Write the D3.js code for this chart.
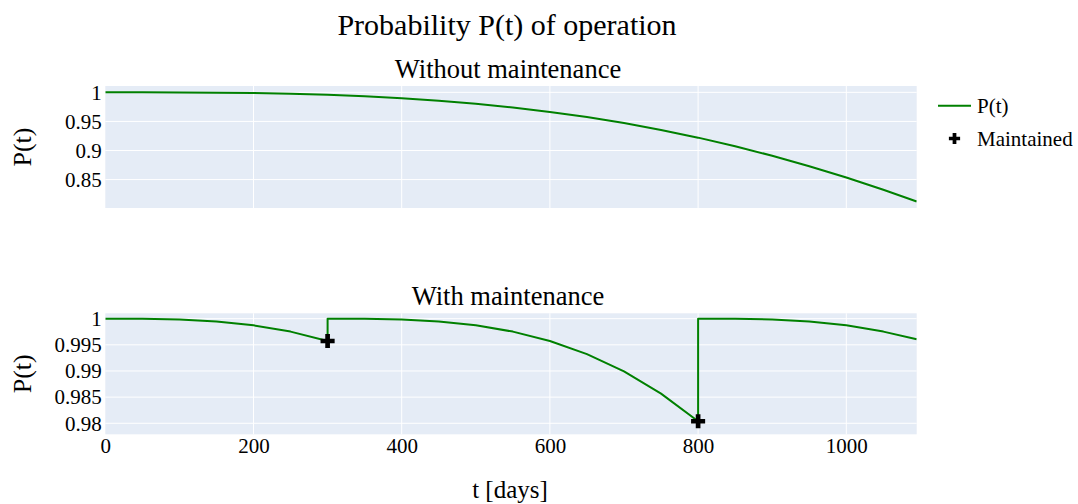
<!DOCTYPE html>
<html>
<head>
<meta charset="utf-8">
<script src="https://cdn.jsdelivr.net/npm/d3@7"></script>
<style>
  html, body { margin: 0; padding: 0; background: #fff; }
  svg text { font-family: "Liberation Serif", "Times New Roman", serif; fill: #000; }
</style>
</head>
<body>
<svg id="chart" width="1078" height="504"></svg>
<script>
// Operating probability P(t) over three years, sampled every 50 days
const daysNoMaint = [0, 50, 100, 150, 200, 250, 300, 350, 400, 450, 500, 550, 600,
                     650, 700, 750, 800, 850, 900, 950, 1000, 1050, 1095];
const probNoMaint = [1.0, 0.99998, 0.99984, 0.99947, 0.99873, 0.99753, 0.99573, 0.99323,
                     0.98991, 0.98567, 0.98039, 0.97398, 0.96635, 0.95742, 0.94710,
                     0.93534, 0.92208, 0.90727, 0.89091, 0.87297, 0.85347, 0.83241, 0.81218];

// With maintenance at day 300 and day 800 the probability is restored to 1
const daysMaint = [0, 50, 100, 150, 200, 250, 300,
                   300, 350, 400, 450, 500, 550, 600, 650, 700, 750, 800,
                   800, 850, 900, 950, 1000, 1050, 1095];
const probMaint = [1.0, 0.99998, 0.99984, 0.99947, 0.99873, 0.99753, 0.99573,
                   1.0, 0.99998, 0.99984, 0.99947, 0.99873, 0.99753, 0.99573, 0.99323,
                   0.98991, 0.98567, 0.98039,
                   1.0, 0.99998, 0.99984, 0.99947, 0.99873, 0.99753, 0.99605];

// Maintenance events
const maintDays = [300, 800];
const maintProb = [0.99573, 0.98039];

const xTicks = [0, 200, 400, 600, 800, 1000];
const yTicksTop = [0.85, 0.9, 0.95, 1];
const yTicksBottom = [0.98, 0.985, 0.99, 0.995, 1];

const svg = d3.select("#chart");
const left = 105.3, right = 916.7;
const panels = [
  { top: 86, bottom: 208, domain: [0.8011, 1.0109], ticks: yTicksTop,
    title: "Without maintenance", x: daysNoMaint, y: probNoMaint, showX: false },
  { top: 313.3, bottom: 434.3, domain: [0.97789, 1.00103], ticks: yTicksBottom,
    title: "With maintenance", x: daysMaint, y: probMaint, showX: true,
    markersX: maintDays, markersY: maintProb }
];

const x = d3.scaleLinear().domain([0, 1095]).range([left, right]);
const fmt = d => d3.format("~g")(d);

panels.forEach((p, i) => {
  const y = d3.scaleLinear().domain(p.domain).range([p.bottom, p.top]);
  const g = svg.append("g");

  g.append("rect").attr("x", left).attr("y", p.top)
    .attr("width", right - left).attr("height", p.bottom - p.top)
    .attr("fill", "#E5ECF6");

  const clipId = "clip" + i;
  svg.append("clipPath").attr("id", clipId).append("rect")
    .attr("x", left).attr("y", p.top).attr("width", right - left).attr("height", p.bottom - p.top);

  // grid lines
  g.append("g").selectAll("line").data(xTicks.filter(t => t > 0)).join("line")
    .attr("x1", d => x(d)).attr("x2", d => x(d))
    .attr("y1", p.top).attr("y2", p.bottom)
    .attr("stroke", "#fff").attr("stroke-width", 1);
  g.append("g").selectAll("line").data(p.ticks).join("line")
    .attr("x1", left).attr("x2", right)
    .attr("y1", d => y(d)).attr("y2", d => y(d))
    .attr("stroke", "#fff").attr("stroke-width", 1);

  // y axis
  const ya = g.append("g").attr("transform", `translate(${left - 3.5},0)`)
    .call(d3.axisLeft(y).tickValues(p.ticks).tickFormat(fmt).tickSize(0).tickPadding(0));
  ya.select(".domain").remove();
  ya.selectAll("text").attr("font-size", 21)
    .attr("font-family", '"Liberation Serif", serif').attr("fill", "#000");

  // x axis labels
  if (p.showX) {
    const xa = g.append("g").attr("transform", `translate(0,${p.bottom + 4})`)
      .call(d3.axisBottom(x).tickValues(xTicks).tickFormat(fmt).tickSize(0).tickPadding(0));
    xa.select(".domain").remove();
    xa.selectAll("text").attr("font-size", 21)
      .attr("font-family", '"Liberation Serif", serif').attr("fill", "#000");
  }

  // curve
  const pts = p.x.map((d, k) => [d, p.y[k]]);
  g.append("path").datum(pts)
    .attr("clip-path", `url(#${clipId})`)
    .attr("fill", "none").attr("stroke", "green").attr("stroke-width", 2)
    .attr("stroke-linejoin", "round")
    .attr("d", d3.line().x(d => x(d[0])).y(d => y(d[1])));

  // maintenance markers
  if (p.markersX) {
    const mk = p.markersX.map((d, k) => [d, p.markersY[k]]);
    g.append("g").selectAll("path").data(mk).join("path")
      .attr("transform", d => `translate(${x(d[0])},${y(d[1])})`)
      .attr("d", d3.symbol(d3.symbolCross, 110))
      .attr("fill", "#000");
  }

  // subplot title
  g.append("text").attr("x", 508).attr("y", p.top - 8)
    .attr("text-anchor", "middle").attr("font-size", 26.5).text(p.title);

  // y axis title
  const cy = (p.top + p.bottom) / 2;
  g.append("text").attr("transform", `translate(31,${cy}) rotate(-90)`)
    .attr("text-anchor", "middle").attr("font-size", 26).text("P(t)");
});

// main title
svg.append("text").attr("x", 507).attr("y", 35).attr("text-anchor", "middle")
  .attr("font-size", 30).text("Probability P(t) of operation");

// x axis title
svg.append("text").attr("x", 510).attr("y", 498).attr("text-anchor", "middle")
  .attr("font-size", 25).text("t [days]");

// legend
const lg = svg.append("g");
lg.append("line").attr("x1", 938).attr("x2", 971).attr("y1", 105.7).attr("y2", 105.7)
  .attr("stroke", "green").attr("stroke-width", 2);
lg.append("text").attr("x", 977).attr("y", 113).attr("font-size", 21).text("P(t)");
lg.append("path").attr("transform", "translate(954.5,138.5)")
  .attr("d", d3.symbol(d3.symbolCross, 70)).attr("fill", "#000");
lg.append("text").attr("x", 977).attr("y", 146).attr("font-size", 21).text("Maintained");
</script>
</body>
</html>
